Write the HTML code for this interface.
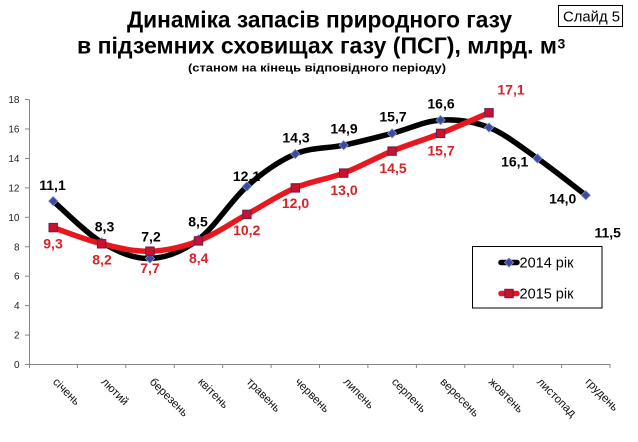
<!DOCTYPE html>
<html>
<head>
<meta charset="utf-8">
<style>
  html,body{margin:0;padding:0;background:#fff;}
  svg{display:block;}
  text{font-family:"Liberation Sans","DejaVu Sans",sans-serif;}
</style>
</head>
<body>
<svg width="638" height="442" viewBox="0 0 638 442" xmlns="http://www.w3.org/2000/svg">
  <defs>
    <polygon id="dia" points="0,-4.6 4.6,0 0,4.6 -4.6,0" fill="#3b4a9c" stroke="#8391d0" stroke-width="0.8"/>
    <rect id="sq" x="-4.2" y="-4.2" width="8.4" height="8.4" fill="#c8122e" stroke="#6b1b4c" stroke-width="1"/>
  </defs>
  <rect width="638" height="442" fill="#fff"/>

  <!-- Title -->
  <text x="127" y="27.5" font-size="23" font-weight="bold" textLength="385" lengthAdjust="spacingAndGlyphs" fill="#000">Динаміка запасів природного газу</text>
  <text x="77" y="53.3" font-size="23" font-weight="bold" textLength="480" lengthAdjust="spacingAndGlyphs" fill="#000">в підземних сховищах газу (ПСГ), млрд. м</text>
  <text x="557.5" y="48.5" font-size="14" font-weight="bold" fill="#000">3</text>
  <text x="188" y="71.7" font-size="11" font-weight="bold" textLength="258" lengthAdjust="spacingAndGlyphs" fill="#000">(станом на кінець відповідного періоду)</text>

  <!-- Slide box -->
  <rect x="558.5" y="5.5" width="64" height="21" fill="#fff" stroke="#000" stroke-width="1"/>
  <text x="563" y="21.5" font-size="15" textLength="57" lengthAdjust="spacingAndGlyphs" fill="#000">Слайд 5</text>

  <!-- Axes -->
  <g stroke="#868686" stroke-width="1" fill="none">
    <line x1="29.5" y1="99.5" x2="29.5" y2="364.5"/>
    <line x1="29" y1="364.5" x2="610.5" y2="364.5"/>
    <line x1="25" y1="364.5" x2="29.5" y2="364.5"/>
    <line x1="25" y1="335.06" x2="29.5" y2="335.06"/>
    <line x1="25" y1="305.62" x2="29.5" y2="305.62"/>
    <line x1="25" y1="276.18" x2="29.5" y2="276.18"/>
    <line x1="25" y1="246.74" x2="29.5" y2="246.74"/>
    <line x1="25" y1="217.3" x2="29.5" y2="217.3"/>
    <line x1="25" y1="187.86" x2="29.5" y2="187.86"/>
    <line x1="25" y1="158.42" x2="29.5" y2="158.42"/>
    <line x1="25" y1="128.98" x2="29.5" y2="128.98"/>
    <line x1="25" y1="99.54" x2="29.5" y2="99.54"/>
    <line x1="29.5" y1="364.5" x2="29.5" y2="368"/>
    <line x1="77.4" y1="364.5" x2="77.4" y2="368"/>
    <line x1="125.8" y1="364.5" x2="125.8" y2="368"/>
    <line x1="174.3" y1="364.5" x2="174.3" y2="368"/>
    <line x1="222.7" y1="364.5" x2="222.7" y2="368"/>
    <line x1="271.1" y1="364.5" x2="271.1" y2="368"/>
    <line x1="319.5" y1="364.5" x2="319.5" y2="368"/>
    <line x1="367.9" y1="364.5" x2="367.9" y2="368"/>
    <line x1="416.4" y1="364.5" x2="416.4" y2="368"/>
    <line x1="464.8" y1="364.5" x2="464.8" y2="368"/>
    <line x1="513.2" y1="364.5" x2="513.2" y2="368"/>
    <line x1="561.6" y1="364.5" x2="561.6" y2="368"/>
    <line x1="610" y1="364.5" x2="610" y2="368"/>
  </g>

  <!-- Y tick labels -->
  <g font-size="10" fill="#222" text-anchor="end">
    <text x="19.5" y="368">0</text>
    <text x="19.5" y="338.6">2</text>
    <text x="19.5" y="309.2">4</text>
    <text x="19.5" y="279.7">6</text>
    <text x="19.5" y="250.3">8</text>
    <text x="19.5" y="220.8">10</text>
    <text x="19.5" y="191.4">12</text>
    <text x="19.5" y="162">14</text>
    <text x="19.5" y="132.5">16</text>
    <text x="19.5" y="103.1">18</text>
  </g>

  <!-- X labels -->
  <g font-size="11.5" fill="#111">
    <text transform="translate(52.2,382.5) rotate(45)">січень</text>
    <text transform="translate(100.6,382.5) rotate(45)">лютий</text>
    <text transform="translate(149,382.5) rotate(45)">березень</text>
    <text transform="translate(197.5,382.5) rotate(45)">квітень</text>
    <text transform="translate(245.9,382.5) rotate(45)">травень</text>
    <text transform="translate(294.3,382.5) rotate(45)">червень</text>
    <text transform="translate(342.7,382.5) rotate(45)">липень</text>
    <text transform="translate(391.1,382.5) rotate(45)">серпень</text>
    <text transform="translate(439.6,382.5) rotate(45)">вересень</text>
    <text transform="translate(488,382.5) rotate(45)">жовтень</text>
    <text transform="translate(536.4,382.5) rotate(45)">листопад</text>
    <text transform="translate(584.8,382.5) rotate(45)">грудень</text>
  </g>

  <!-- 2014 line -->
  <path d="M53.2,201.1 C61.27,207.97 85.47,232.73 101.6,242.3 C117.73,251.87 133.87,258.98 150,258.5 C166.13,258.02 182.37,251.42 198.5,239.4 C214.63,227.38 230.77,200.63 246.9,186.4 C263.03,172.17 279.17,160.87 295.3,154 C311.43,147.13 327.57,148.63 343.7,145.2 C359.83,141.77 375.97,137.58 392.1,133.4 C408.23,129.22 424.47,121.08 440.6,120.1 C456.73,119.12 472.87,121.12 489,127.5 C505.13,133.88 521.27,147.12 537.4,158.4 C553.53,169.68 577.73,189.07 585.8,195.2" fill="none" stroke="#000" stroke-width="5.5" stroke-linejoin="round" stroke-linecap="round"/>
  <g>
    <use href="#dia" x="53.2" y="201.1"/>
    <use href="#dia" x="101.6" y="242.3"/>
    <use href="#dia" x="150" y="258.5"/>
    <use href="#dia" x="198.5" y="239.4"/>
    <use href="#dia" x="246.9" y="186.4"/>
    <use href="#dia" x="295.3" y="154"/>
    <use href="#dia" x="343.7" y="145.2"/>
    <use href="#dia" x="392.1" y="133.4"/>
    <use href="#dia" x="440.6" y="120.1"/>
    <use href="#dia" x="489" y="127.5"/>
    <use href="#dia" x="537.4" y="158.4"/>
    <use href="#dia" x="585.8" y="195.2"/>
  </g>

  <!-- 2015 line -->
  <path d="M53.2,227.6 C61.27,230.3 85.47,239.87 101.6,243.8 C117.73,247.73 133.87,251.68 150,251.2 C166.13,250.72 182.37,247.03 198.5,240.9 C214.63,234.77 230.77,223.23 246.9,214.4 C263.03,205.57 279.17,194.78 295.3,187.9 C311.43,181.02 327.57,179.23 343.7,173.1 C359.83,166.97 375.97,157.72 392.1,151.1 C408.23,144.48 424.47,139.78 440.6,133.4 C456.73,127.02 480.93,116.23 489,112.8" fill="none" stroke="#e8171f" stroke-width="5.5" stroke-linejoin="round" stroke-linecap="round"/>
  <g>
    <use href="#sq" x="53.2" y="227.6"/>
    <use href="#sq" x="101.6" y="243.8"/>
    <use href="#sq" x="150" y="251.2"/>
    <use href="#sq" x="198.5" y="240.9"/>
    <use href="#sq" x="246.9" y="214.4"/>
    <use href="#sq" x="295.3" y="187.9"/>
    <use href="#sq" x="343.7" y="173.1"/>
    <use href="#sq" x="392.1" y="151.1"/>
    <use href="#sq" x="440.6" y="133.4"/>
    <use href="#sq" x="489" y="112.8"/>
  </g>

  <!-- 2014 labels -->
  <g font-size="14" font-weight="bold" fill="#000" text-anchor="middle">
    <text x="52.5" y="190">11,1</text>
    <text x="104.5" y="231.7">8,3</text>
    <text x="151" y="241.7">7,2</text>
    <text x="198" y="226.7">8,5</text>
    <text x="246.5" y="181.2">12,1</text>
    <text x="296" y="142.3">14,3</text>
    <text x="344" y="133.3">14,9</text>
    <text x="393" y="121.7">15,7</text>
    <text x="441" y="108.3">16,6</text>
    <text x="514.7" y="166.7">16,1</text>
    <text x="562.7" y="203.3">14,0</text>
    <text x="607.7" y="237.7">11,5</text>
  </g>

  <!-- 2015 labels -->
  <g font-size="14" font-weight="bold" fill="#d4232a" text-anchor="middle">
    <text x="53" y="248.3">9,3</text>
    <text x="102" y="264.5">8,2</text>
    <text x="150" y="273">7,7</text>
    <text x="198.7" y="263">8,4</text>
    <text x="246.7" y="235">10,2</text>
    <text x="295.5" y="208">12,0</text>
    <text x="344" y="195">13,0</text>
    <text x="393" y="173">14,5</text>
    <text x="441" y="155.5">15,7</text>
    <text x="511" y="94.5">17,1</text>
  </g>

  <!-- Legend -->
  <rect x="472.5" y="246.5" width="129.5" height="61.5" fill="#fff" stroke="#000" stroke-width="1"/>
  <line x1="501" y1="262.5" x2="517" y2="262.5" stroke="#000" stroke-width="5.5" stroke-linecap="round"/>
  <use href="#dia" x="509" y="262.5"/>
  <text x="519.5" y="267.5" font-size="14.5" fill="#000">2014 рік</text>
  <line x1="501" y1="293.5" x2="517" y2="293.5" stroke="#e8171f" stroke-width="5.5" stroke-linecap="round"/>
  <use href="#sq" x="509" y="293.5"/>
  <text x="519.5" y="298.5" font-size="14.5" fill="#000">2015 рік</text>
</svg>
</body>
</html>
